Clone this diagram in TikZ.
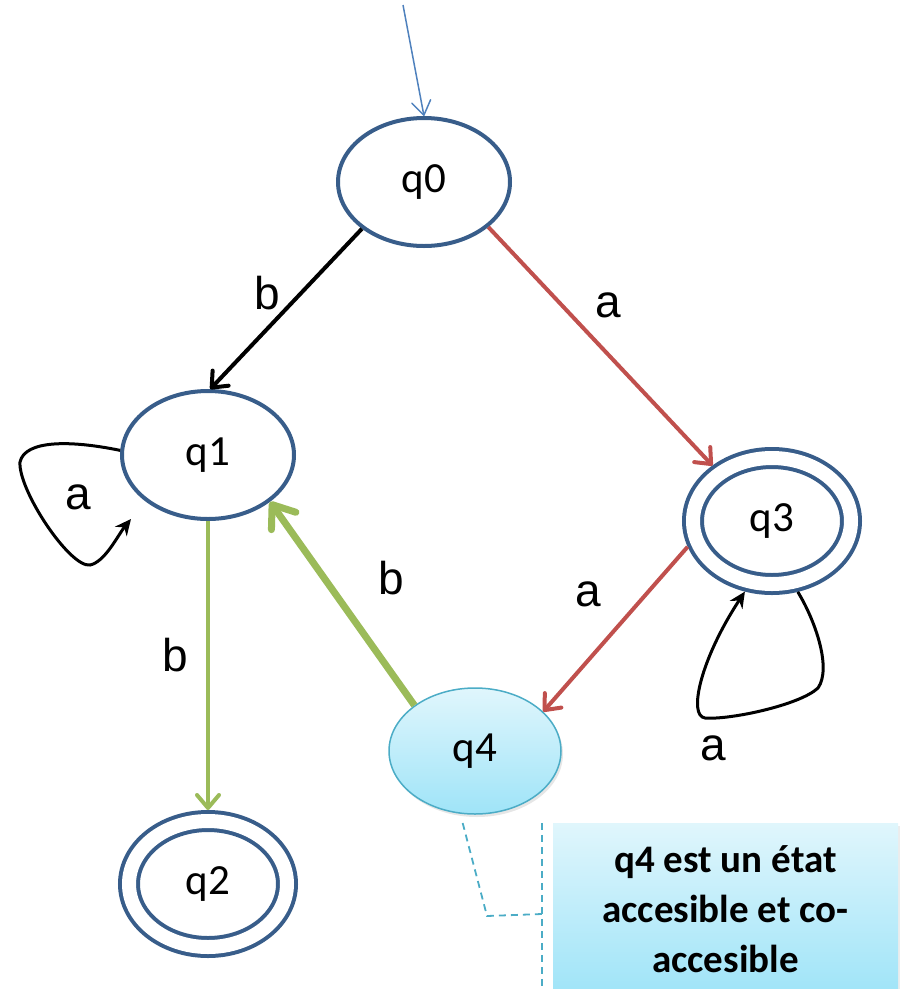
\documentclass[tikz,border=0pt]{standalone}
\usepackage{fontspec}
\setmainfont{Liberation Sans}
\newfontfamily\calfont{Carlito}
\usepackage{tikz}
\usetikzlibrary{positioning, arrows.meta, shapes.geometric, shadows}

\definecolor{stateblue}{HTML}{385D8A}
\definecolor{arcred}{HTML}{C0504D}
\definecolor{arcgreen}{HTML}{9BBB59}
\definecolor{initblue}{HTML}{4F81BD}
\definecolor{noteteal}{HTML}{4BACC6}
\definecolor{notetop}{HTML}{E0F6FC}
\definecolor{notebot}{HTML}{9FE4F8}

\begin{document}
\begin{tikzpicture}[x=1pt, y=-1pt,
    state/.style={ellipse, draw=stateblue, line width=4pt, minimum width=172pt,
        minimum height=128pt, inner sep=0pt, font=\calfont\fontsize{43}{45}\selectfont},
    accept/.style={state, double=white, double distance=14pt, minimum width=158pt,
        minimum height=126pt, outer sep=11pt},
    marked/.style={state, draw=noteteal, line width=1.5pt, top color=notetop,
        bottom color=notebot, minimum height=126pt,
        drop shadow={opacity=0.2, shadow xshift=2pt, shadow yshift=-3pt}},
    arc/.style={line width=4pt, -{Straight Barb[round, length=13pt, width=22pt]}},
    loopline/.style={black, line width=3pt, -{Stealth[length=16pt, width=15pt]}},
    lbl/.style={inner sep=0pt, font=\fontsize{46}{48}\selectfont},
    note/.style={rectangle, minimum width=345pt, minimum height=172pt, inner sep=0pt,
        top color=notetop, bottom color=notebot, align=center,
        font=\calfont\bfseries\fontsize{39}{50}\selectfont,
        drop shadow={opacity=0.15, shadow xshift=2pt, shadow yshift=-3pt}},
    lead/.style={noteteal, line width=1.8pt, dash pattern=on 7pt off 5pt}]

    \useasboundingbox (0,0) rectangle (908,989);

    % states
    \node[state]  (q0) at (424,182) {q0};
    \node[state]  (q1) at (208,455) {q1};
    \node[accept] (q2) at (208,884) {q2};
    \node[accept] (q3) at (772,521) {q3};
    \node[marked] (q4) at (475,751) {q4};

    \coordinate (init) at (403,5);
    \coordinate (l1) at (131,519);

    % transitions
    \draw[initblue, line width=1.5pt, -{Straight Barb[round, length=14pt, width=19pt]}] (init) -- (q0.north);
    \draw[arc, black] (q0.217) -- (q1.88);
    \draw[arc, arcred] (q0.325) -- (q3.137);
    \draw[arc, arcred] (q3.197) -- (q4.30);
    \draw[arc, arcgreen] (q1.270) -- (q2.90);
    \draw[arc, arcgreen, line width=7pt, -{Straight Barb[round, length=20pt, width=30pt]}] (q4.143) -- (q1.323);
    \draw[loopline] (q1.177) .. controls (70,440) and (25,440) .. (20,462)
        .. controls (18,490) and (70,568) .. (90,565)
        .. controls (105,562) and (118,535) .. (l1);
    \draw[loopline] (q3.290) .. controls (815,620) and (832,668) .. (818,688)
        .. controls (800,705) and (730,720) .. (705,718)
        .. controls (688,716) and (700,660) .. (q3.249);

    \node[lbl] (lb01) at (267,293) {b};
    \node[lbl] (lb03) at (608,305) {a};
    \node[lbl] (lb11) at (78,497) {a};
    \node[lbl] (lb12) at (175,655) {b};
    \node[lbl] (lb41) at (391,578) {b};
    \node[lbl] (lb34) at (588,594) {a};
    \node[lbl] (lb33) at (713,748) {a};

    % callout
    \node[note] (nt) at (725.5,909) {q4 est un état\\accesible et co-\\accesible};
    \coordinate (bend) at (487,916);
    \draw[lead] ([xshift=-11pt]nt.north west) -- ([xshift=-11pt]nt.south west);
    \draw[lead] ([xshift=-11pt, yshift=-5pt]nt.west) -- (bend) -- ([yshift=-5pt]q4.258);
\end{tikzpicture}
\end{document}
